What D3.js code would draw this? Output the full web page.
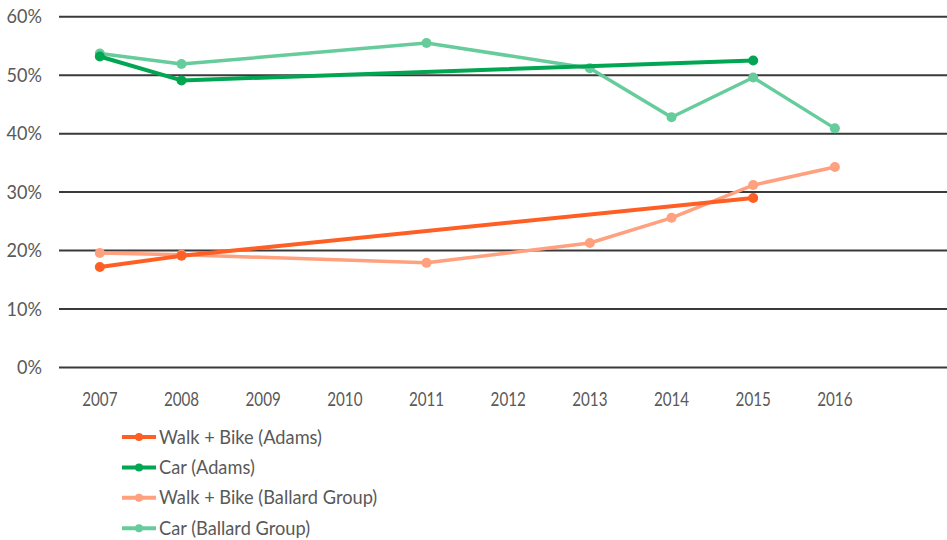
<!DOCTYPE html>
<html>
<head>
<meta charset="utf-8">
<script src="https://cdn.jsdelivr.net/npm/d3@7"></script>
<style>
  body { margin: 0; background: #fff; }
  text { font-family: "Lato", sans-serif; fill: #595959; }
</style>
</head>
<body>
<div id="chart"></div>
<script>
// Data
const years = [2007, 2008, 2009, 2010, 2011, 2012, 2013, 2014, 2015, 2016];
const yTicks = [0, 10, 20, 30, 40, 50, 60];

const walkBikeAdams = [[2007, 17.2], [2008, 19.1], [2015, 29.0]];
const carAdams = [[2007, 53.2], [2008, 49.1], [2015, 52.5]];
const walkBikeBallard = [[2007, 19.6], [2008, 19.3], [2011, 17.9], [2013, 21.3], [2014, 25.6], [2015, 31.2], [2016, 34.3]];
const carBallard = [[2007, 53.7], [2008, 51.9], [2011, 55.5], [2013, 51.2], [2014, 42.8], [2015, 49.6], [2016, 40.9]];

const seriesNames = ["Walk + Bike (Adams)", "Car (Adams)", "Walk + Bike (Ballard Group)", "Car (Ballard Group)"];

// Style properties
const size = { width: 947, height: 540 };
const colors = ["#ff5f24", "#00a651", "#ffa07e", "#66cc9b"];
const widths = [4, 4, 3.5, 3.5];

const series = [walkBikeAdams, carAdams, walkBikeBallard, carBallard];

const svg = d3.select("#chart")
  .append("svg")
  .attr("width", size.width)
  .attr("height", size.height);

// Scales
const xScale = d3.scaleBand(years, [59, 59 + years.length * 81.67]);
const yScale = d3.scaleLinear([0, 60], [367.5, 16.7]);
const cx = (d) => xScale(d[0]) + xScale.bandwidth() / 2;

// Gridlines
svg.append("g")
  .selectAll("line")
  .data(yTicks)
  .join("line")
  .attr("x1", 59)
  .attr("x2", size.width)
  .attr("y1", (d) => yScale(d))
  .attr("y2", (d) => yScale(d))
  .attr("stroke", "#3a3a3a")
  .attr("stroke-width", 2);

// Y labels
svg.append("g")
  .selectAll("text")
  .data(yTicks)
  .join("text")
  .attr("transform", (d) => `translate(42,${yScale(d) + 6.5}) scale(0.95,1)`)
  .attr("text-anchor", "end")
  .style("font-size", "19px")
  .text((d) => d + "%");

// X labels (narrow, like the source font)
svg.append("g")
  .selectAll("text")
  .data(years)
  .join("text")
  .attr("transform", (d) => `translate(${xScale(d) + xScale.bandwidth() / 2},406) scale(0.8,1)`)
  .attr("text-anchor", "middle")
  .style("font-size", "19px")
  .text((d) => d);

// Lines, Ballard first so Adams sits on top
const line = d3.line().x(cx).y((d) => yScale(d[1]));
const order = [2, 3, 0, 1];

order.forEach((i) => {
  const g = svg.append("g");
  g.append("path")
    .datum(series[i])
    .attr("d", line)
    .attr("fill", "none")
    .attr("stroke", colors[i])
    .attr("stroke-width", widths[i])
    .attr("stroke-linejoin", "round")
    .attr("stroke-linecap", "round");
  g.selectAll("circle")
    .data(series[i])
    .join("circle")
    .attr("cx", cx)
    .attr("cy", (d) => yScale(d[1]))
    .attr("r", 5)
    .attr("fill", colors[i]);
});

// Legend
const legend = svg.append("g")
  .selectAll("g")
  .data(seriesNames)
  .join("g")
  .attr("transform", (d, i) => `translate(0,${437 + i * 30.4})`);

legend.append("line")
  .attr("x1", 122)
  .attr("x2", 156)
  .attr("stroke", (d, i) => colors[i])
  .attr("stroke-width", 4);

legend.append("circle")
  .attr("cx", 139)
  .attr("r", 4)
  .attr("fill", (d, i) => colors[i]);

legend.append("text")
  .attr("transform", "translate(159,6.5) scale(0.96,1)")
  .style("font-size", "19px")
  .text((d) => d);
</script>
</body>
</html>
